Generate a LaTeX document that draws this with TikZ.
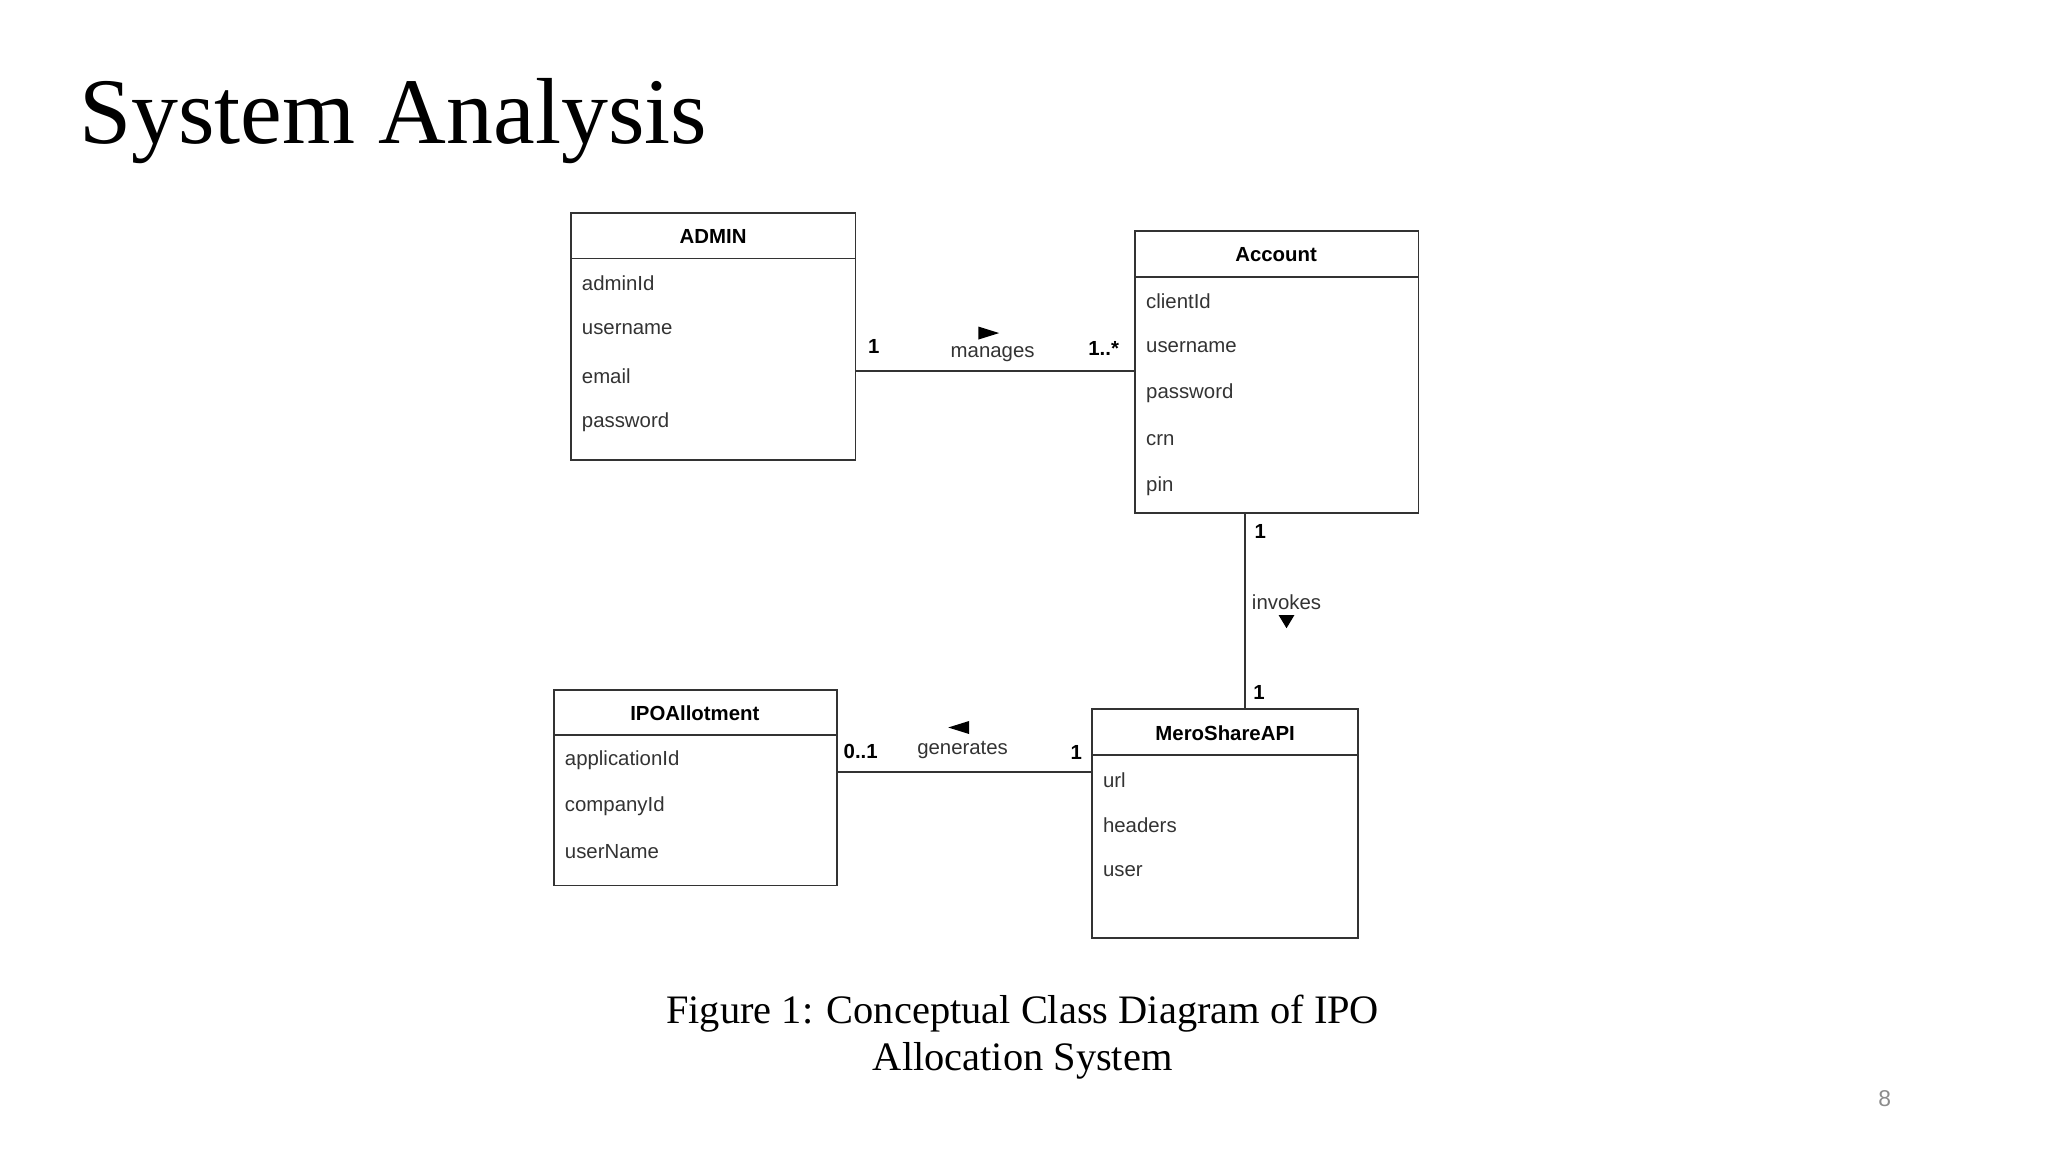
\documentclass[tikz,border=0pt]{standalone}
\usepackage{fontspec}
\setmainfont{Liberation Serif}
\newfontfamily\dsans{Liberation Sans}
\begin{document}
\begin{tikzpicture}[x=0.013061cm,y=-0.013061cm,
  attr/.style={anchor=west,font=\dsans\fontsize{5.8}{7}\selectfont,text=black!80,inner sep=0},
  hdr/.style={font=\dsans\bfseries\fontsize{5.8}{7}\selectfont,inner sep=0},
  lbl/.style={font=\dsans\fontsize{5.8}{7}\selectfont,inner sep=0,text=black!80},
  mult/.style={font=\dsans\bfseries\fontsize{5.8}{7}\selectfont,inner sep=0},
  box/.style={draw=black!80,line width=0.5pt},
  conn/.style={draw=black!80,line width=0.5pt}]
\useasboundingbox (0,0) rectangle (1568,882);
\node[anchor=base west,inner sep=0,font=\fontsize{26.7}{31}\selectfont] (title) at (60,110) {System Analysis};
% ADMIN
\draw[box] (437,163) rectangle (655,352); \draw[box] (437,198) -- (655,198);
\coordinate (adminE) at (655,284);
\node[hdr] (adminh) at (546,181) {ADMIN};
\node[attr] (a1) at (445,217) {adminId};
\node[attr] (a2) at (445,252) {username};
\node[attr] (a3) at (445,288) {email};
\node[attr] (a4) at (445,323) {password};
% Account
\draw[box] (869,177) rectangle (1086,393); \draw[box] (869,212) -- (1086,212);
\coordinate (accW) at (869,284); \coordinate (accS) at (953,393);
\node[hdr] (acch) at (977,195) {Account};
\node[attr] (b1) at (877,231) {clientId};
\node[attr] (b2) at (877,266) {username};
\node[attr] (b3) at (877,301) {password};
\node[attr] (b4) at (877,337) {crn};
\node[attr] (b5) at (877,372) {pin};
% IPOAllotment
\draw[box] (424,528) rectangle (641,678); \draw[box] (424,563) -- (641,563);
\coordinate (ipoE) at (641,591);
\node[hdr] (ipoh) at (532,546) {IPOAllotment};
\node[attr] (c1) at (432,582) {applicationId};
\node[attr] (c2) at (432,617) {companyId};
\node[attr] (c3) at (432,652) {userName};
% MeroShareAPI
\draw[box] (836,543) rectangle (1040,718); \draw[box] (836,578) -- (1040,578);
\coordinate (merW) at (836,591); \coordinate (merN) at (953,543);
\node[hdr] (merh) at (938,561) {MeroShareAPI};
\node[attr] (d1) at (844,597) {url};
\node[attr] (d2) at (844,632) {headers};
\node[attr] (d3) at (844,667) {user};
% connectors
\draw[conn] (adminE) -- (accW);
\draw[conn] (accS) -- (merN);
\draw[conn] (ipoE) -- (merW);
\node[mult] (m1) at (669,265) {1};
\node[lbl] (l1) at (760,271) {manages};
\fill[black] (749,250) -- (765,255) -- (749,260) -- cycle;
\node[mult] (m2) at (845,267) {1..*};
\node[mult] (m3) at (965,407) {1};
\node[lbl] (l2) at (985,461) {invokes};
\fill[black] (979,471) -- (991,471) -- (985,481) -- cycle;
\node[mult] (m4) at (964,530) {1};
\node[mult] (m5) at (659,575) {0..1};
\node[lbl] (l3) at (737,574) {generates};
\fill[black] (742,552) -- (726,557) -- (742,562) -- cycle;
\node[mult] (m6) at (824,576) {1};
% caption
\node[align=center,inner sep=0,font=\fontsize{11.5}{13.6}\selectfont] (cap) at (783,794) {Figure 1: Conceptual Class Diagram of IPO\\Allocation System};
\node[inner sep=0,text=black!45,font=\dsans\fontsize{6.5}{8}\selectfont] (pg) at (1443,841) {8};
\end{tikzpicture}
\end{document}
